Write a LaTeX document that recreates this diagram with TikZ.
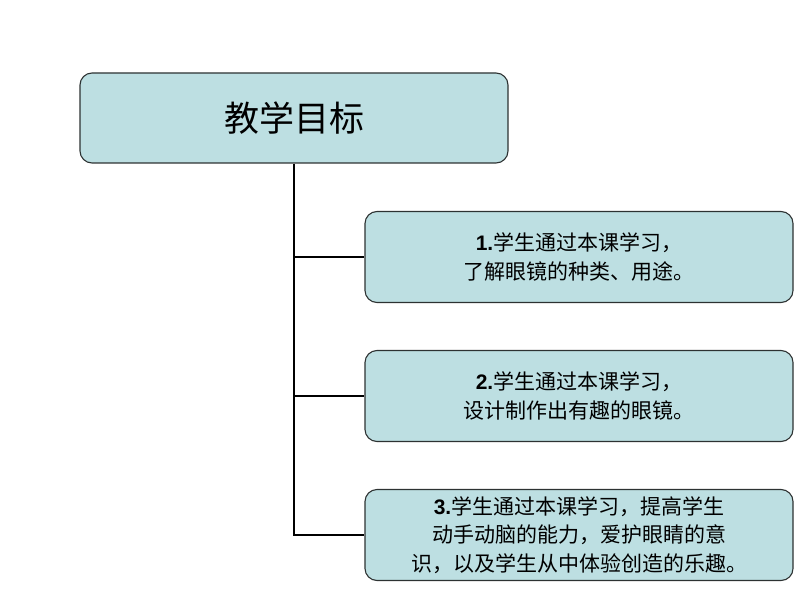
\documentclass[tikz,border=0pt]{standalone}
\usepackage{xcolor}
\usepackage{fontspec}
\setmainfont{Liberation Sans}
\newfontfamily\cjk{Noto Sans CJK SC}
\usepackage{tikz}
\usetikzlibrary{positioning}
\definecolor{goalfill}{RGB}{189,223,226}
\definecolor{goaldraw}{RGB}{45,50,50}
\tikzset{
  goal/.style={draw=goaldraw, line width=1.1pt, rounded corners=12pt, fill=goalfill,
               minimum width=428pt, minimum height=91pt, align=center,
               font=\fontsize{21}{28.5}\selectfont, inner sep=0pt},
  link/.style={line width=2pt, black},
}

\begin{document}
\begin{tikzpicture}[x=1pt, y=-1pt,
  head/.style={draw=goaldraw, line width=1.1pt, rounded corners=12pt, fill=goalfill,
               minimum width=428pt, minimum height=90pt,
               font=\fontsize{35}{40}\selectfont\cjk},
]
  \useasboundingbox (0,0) rectangle (794,596);

  % Heading
  \node[head] (aims) at (294,118) {教学目标};

  % Goals
  \node[goal] (g1) at (579,257) {\textbf{1.}{\cjk 学生通过本课学习，}\\{\cjk 了解眼镜的种类、用途。}};
  \node[goal] (g2) at (579,396) {\textbf{2.}{\cjk 学生通过本课学习，}\\{\cjk 设计制作出有趣的眼镜。}};
  \node[goal] (g3) at (579,535) {\textbf{3.}{\cjk 学生通过本课学习，提高学生}\\{\cjk 动手动脑的能力，爱护眼睛的意}\\{\cjk 识，以及学生从中体验创造的乐趣。}};

  % Connectors
  \draw[link] (aims.south) -- (aims.south |- g3.west) -- (g3.west);
  \draw[link] (aims.south |- g1.west) -- (g1.west);
  \draw[link] (aims.south |- g2.west) -- (g2.west);

\end{tikzpicture}
\end{document}
